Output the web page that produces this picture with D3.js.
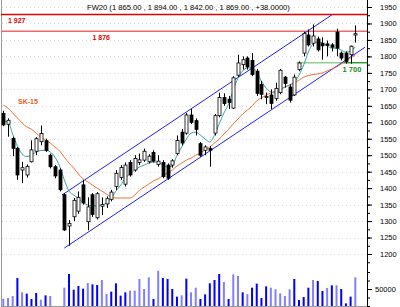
<!DOCTYPE html>
<html lang="pl">
<head>
<meta charset="UTF-8">
<title>FW20</title>
<style>
  body { margin: 0; background: #fff; }
  svg { display: block; font-family: "Liberation Sans", Arial, sans-serif; }
  .axis text { font-size: 7.5px; fill: #000; }
  .axis path, .axis line { stroke: #000; }
</style>
</head>
<body>
<svg width="400" height="307"></svg>
<script src="https://d3js.org/d3.v7.min.js"></script>
<script>
// daily candles, oldest first
const opens  = [1627,1594,1551,1521,1455,1440,1480,1512,1541,1544,1500,1465,1455,1380,1285,1313,1330,1410,1298,1380,
                1310,1345,1352,1366,1405,1432,1412,1478,1455,1478,1485,1480,1508,1472,1478,1470,1470,1505,1570,1567,
                1622,1605,1535,1515,1520,1567,1620,1675,1670,1643,1743,1775,1795,1788,1755,1715,1675,1683,1672,1690,
                1737,1707,1683,1760,1810,1865,1840,1853,1840,1838,1835,1874,1810,1810,1805,1865];
const highs  = [1635,1612,1556,1525,1480,1472,1545,1555,1590,1550,1505,1470,1460,1385,1303,1370,1390,1425,1372,1385,
                1388,1372,1375,1395,1455,1470,1478,1485,1500,1505,1520,1503,1515,1500,1485,1475,1488,1560,1580,1628,
                1640,1612,1540,1530,1528,1625,1690,1688,1680,1740,1805,1800,1800,1810,1762,1725,1690,1700,1720,1762,
                1740,1715,1745,1785,1875,1882,1897,1860,1858,1848,1840,1884,1815,1815,1833,1894];
const lows   = [1588,1556,1497,1425,1415,1432,1478,1500,1530,1510,1460,1430,1390,1270,1225,1300,1322,1350,1272,1312,
                1305,1318,1340,1360,1395,1425,1405,1435,1450,1470,1480,1475,1478,1465,1430,1425,1462,1500,1530,1562,
                1595,1560,1495,1500,1465,1560,1615,1650,1640,1640,1738,1760,1760,1740,1680,1670,1655,1640,1665,1685,
                1705,1660,1680,1755,1800,1830,1830,1815,1790,1800,1815,1800,1788,1778,1778,1842];
const closes = [1592,1606,1521,1440,1462,1466,1516,1550,1566,1514,1465,1437,1395,1273,1293,1363,1372,1355,1343,1320,
                1383,1350,1368,1388,1445,1463,1470,1440,1490,1486,1512,1497,1482,1482,1435,1430,1483,1545,1537,1622,
                1600,1578,1500,1525,1515,1620,1675,1657,1660,1735,1780,1790,1768,1745,1688,1685,1678,1657,1703,1758,
                1718,1667,1737,1780,1870,1835,1862,1820,1832,1833,1828,1825,1795,1785,1831,1869];
const volumes = [21500,23500,29400,82400,40200,36300,20600,38200,18600,31400,29400,0,0,53900,94100,48000,58800,51000,67600,63700,
                 61800,76500,35300,42200,66700,30400,40200,45100,45100,79400,50000,84300,20600,103900,82400,79400,50000,27500,31400,80400,
                 40200,53900,20600,34300,66700,76500,94100,70600,20600,93100,88200,40200,35300,53900,65700,23500,57800,53900,49000,37300,
                 29400,49000,79400,17600,26500,53900,76500,73500,44100,52900,60800,60800,50000,7800,27500,84300];
// 1 = dark blue bar, 0 = light blue bar
const volumeDark = [0,0,0,1,0,1,1,1,0,1,0,0,0,0,1,1,1,1,0,1,
                    1,0,0,1,1,1,1,0,0,0,0,0,1,0,1,1,1,1,0,1,
                    0,0,1,1,1,1,1,0,1,0,0,1,0,1,1,1,1,0,0,0,
                    0,0,1,1,1,1,0,1,1,0,1,0,1,1,1,0];
// short average (teal) and SK-15 (orange)
const avgShort = [1604,1601,1564,1528,1504,1496,1500,1510,1514,1515,1510,1494,1467,1425,1391,1379,1370,1355,1349,1346,
                  1346,1349,1355,1370,1391,1409,1431,1443,1455,1464,1470,1476,1479,1479,1470,1464,1467,1500,1525,1549,
                  1567,1570,1561,1549,1540,1561,1595,1628,1655,1698,1734,1756,1765,1765,1753,1725,1704,1692,1689,1698,
                  1707,1713,1722,1743,1774,1813,1838,1844,1841,1832,1825,1825,1819,1813,1816,1829];
const avgSK15 = [1652,1643,1628,1613,1598,1586,1579,1567,1555,1546,1537,1525,1513,1494,1476,1461,1443,1428,1419,1409,
                 1400,1391,1382,1373,1370,1370,1370,1370,1379,1394,1403,1412,1422,1428,1437,1446,1455,1467,1476,1485,
                 1491,1500,1507,1516,1525,1537,1549,1564,1579,1595,1610,1625,1637,1649,1665,1674,1683,1689,1695,1701,
                 1707,1713,1719,1728,1737,1742,1745,1747,1750,1756,1762,1768,1777,1786,1795,1804];
// trend channel: [index, price] end points
const channelUpper = [[12.5, 1379], [70, 1926]];
const channelLower = [[13, 1218], [77.1, 1828]];
// horizontal levels
const levels = [
  { value: 1927, label: "1 927", color: "#e00000", from: -1, labelAt: 1 },
  { value: 1876, label: "1 876", color: "#f06a6a", from: -1, labelAt: 19 },
  { value: 1781, label: "1 700", color: "#90d090", from: 62.5, labelAt: 72.5 }
];
const priceTicks = d3.range(1200, 1951, 50);
const title = "FW20 (1 865.00 , 1 894.00 , 1 842.00 , 1 869.00 , +38.0000)";

const svg = d3.select("svg");
const axisX = 367;

const x = d3.scaleLinear().domain([0, 75]).range([3.3, 355.3]);
const y = d3.scaleLinear().domain([1200, 1950]).range([254, 7]);
const yv = d3.scaleLinear().domain([0, 50000]).range([306, 289]);

// faint dotted grid
svg.append("g").selectAll("line")
  .data(priceTicks)
  .join("line")
  .attr("x1", 2).attr("x2", axisX)
  .attr("y1", d => Math.round(y(d)) + 0.5).attr("y2", d => Math.round(y(d)) + 0.5)
  .attr("stroke", "#d8d8d8").attr("stroke-dasharray", "1,3");

// frame
svg.append("line").attr("x1", 1.5).attr("x2", 1.5).attr("y1", 0).attr("y2", 307).attr("stroke", "#999");
svg.append("line").attr("x1", 1).attr("x2", axisX).attr("y1", 306.5).attr("y2", 306.5).attr("stroke", "#999");

// volume
const n = closes.length;
svg.append("g").selectAll("rect")
  .data(d3.range(n).filter(i => volumes[i] > 0))
  .join("rect")
  .attr("x", i => x(i) - 1)
  .attr("width", 2)
  .attr("y", i => yv(volumes[i]))
  .attr("height", i => yv(0) - yv(volumes[i]))
  .attr("fill", i => volumeDark[i] ? "#0000ff" : "#8080ff");

// horizontal levels
levels.forEach(l => {
  const yy = y(l.value);
  svg.append("line")
    .attr("x1", l.from < 0 ? 1 : x(l.from)).attr("x2", axisX)
    .attr("y1", yy).attr("y2", yy)
    .attr("stroke", l.color).attr("stroke-width", 1.5);
});
svg.append("line")
  .attr("x1", x(72.5)).attr("x2", axisX).attr("y1", y(1781)).attr("y2", y(1781))
  .attr("stroke", "#2a9a2a").attr("stroke-width", 1.2);

// channel
[channelUpper, channelLower].forEach(c => {
  svg.append("line")
    .attr("x1", x(c[0][0])).attr("y1", y(c[0][1]))
    .attr("x2", x(c[1][0])).attr("y2", y(c[1][1]))
    .attr("stroke", "#2020f0").attr("stroke-width", 1);
});

// averages
const lineGen = arr => d3.line().x((d, i) => x(i)).y(d => y(d)).curve(d3.curveMonotoneX)(arr);
svg.append("path").attr("d", lineGen(avgSK15)).attr("fill", "none").attr("stroke", "#f07030").attr("stroke-width", 1);
svg.append("path").attr("d", lineGen(avgShort)).attr("fill", "none").attr("stroke", "#3aa0a0").attr("stroke-width", 1);

// candles
const candle = svg.append("g").selectAll("g")
  .data(d3.range(n))
  .join("g");
candle.append("line")
  .attr("x1", i => Math.round(x(i)) + 0.5).attr("x2", i => Math.round(x(i)) + 0.5)
  .attr("y1", i => y(highs[i])).attr("y2", i => y(lows[i]))
  .attr("stroke", "#000");
candle.append("rect")
  .attr("x", i => Math.round(x(i)) - 1)
  .attr("width", 3)
  .attr("y", i => y(Math.max(opens[i], closes[i])))
  .attr("height", i => Math.max(1, Math.abs(y(opens[i]) - y(closes[i]))))
  .attr("fill", i => closes[i] >= opens[i] ? "#fff" : "#000")
  .attr("stroke", "#000").attr("stroke-width", 0.8);

// right axis
svg.append("g").attr("class", "axis")
  .attr("transform", `translate(${axisX},0)`)
  .call(d3.axisRight(y).tickValues(d3.range(1175, 1976, 25)).tickSize(3).tickFormat(""))
  .call(g => g.select(".domain").remove());
svg.append("g").attr("class", "axis")
  .attr("transform", `translate(${axisX},0)`)
  .call(d3.axisRight(y).tickValues(priceTicks).tickSize(5).tickPadding(8).tickFormat(d3.format("d")))
  .call(g => g.select(".domain").remove());
svg.append("g").attr("class", "axis")
  .attr("transform", `translate(${axisX},0)`)
  .call(d3.axisRight(yv).tickValues([0, 25000, 75000, 100000]).tickSize(3).tickFormat(""))
  .call(g => g.select(".domain").remove());
svg.append("g").attr("class", "axis")
  .attr("transform", `translate(${axisX},0)`)
  .call(d3.axisRight(yv).tickValues([50000]).tickSize(5).tickPadding(3).tickFormat(d3.format("d")))
  .call(g => g.select(".domain").remove());
svg.append("line").attr("x1", axisX + 0.5).attr("x2", axisX + 0.5).attr("y1", 0).attr("y2", 307).attr("stroke", "#000");

// labels
svg.append("text").attr("x", 87).attr("y", 10).attr("font-size", 7.6).attr("fill", "#000").text(title);
svg.append("text").attr("x", x(levels[0].labelAt)).attr("y", y(1927) + 8)
  .attr("font-size", 7).attr("font-weight", "bold").attr("fill", "#e00000").text(levels[0].label);
svg.append("text").attr("x", x(levels[1].labelAt)).attr("y", y(1876) + 9)
  .attr("font-size", 7).attr("font-weight", "bold").attr("fill", "#e00000").text(levels[1].label);
svg.append("text").attr("x", x(72.5) - 1).attr("y", y(1781) + 9)
  .attr("font-size", 7.5).attr("font-weight", "bold").attr("fill", "#1a8a1a").text(levels[2].label);
svg.append("text").attr("x", 18).attr("y", 104)
  .attr("font-size", 7).attr("font-weight", "bold").attr("fill", "#f06020").text("SK-15");
</script>
</body>
</html>
